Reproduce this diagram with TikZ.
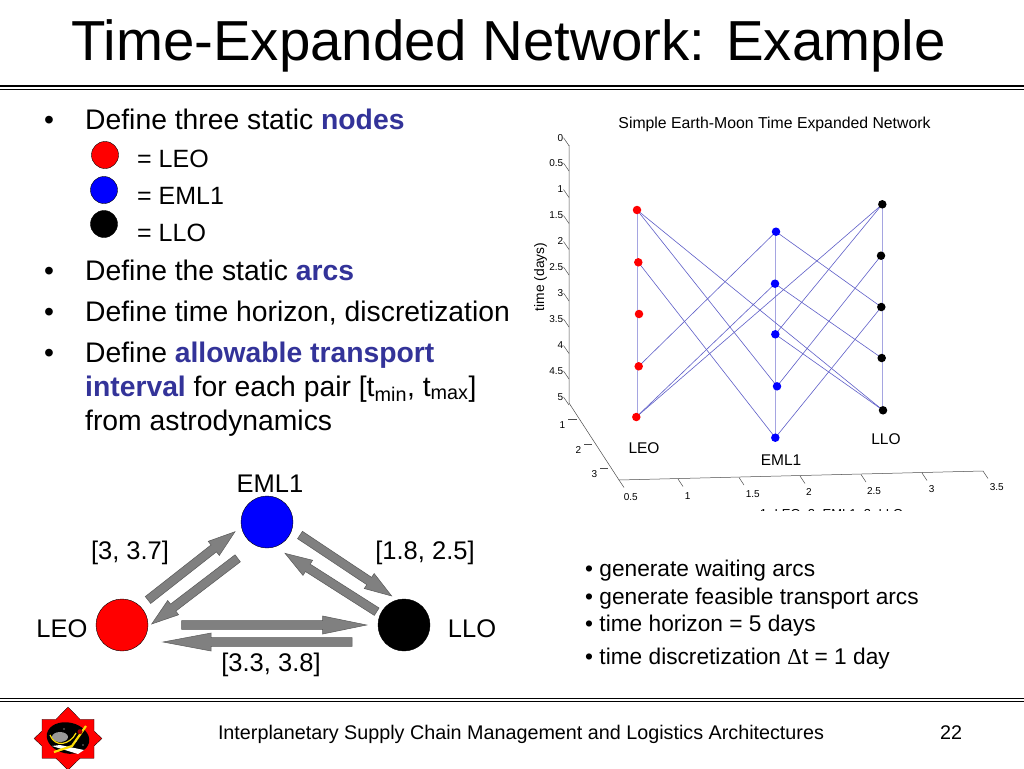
\documentclass[tikz,border=0pt]{standalone}
\usepackage{fontspec}
\setmainfont{Liberation Sans}
\newfontfamily\symfont{Liberation Serif}
\usetikzlibrary{calc}
\definecolor{accent}{RGB}{51,51,153}
\definecolor{arrowgray}{RGB}{128,128,128}
\definecolor{arclr}{RGB}{95,95,200}
\definecolor{waitclr}{RGB}{165,165,225}
\tikzset{
 x=1pt,y=-1pt,
 body/.style={anchor=base west,inner sep=0pt,font=\fontsize{28.3}{34}\selectfont,align=left},
 bul/.style={anchor=base west,inner sep=0pt,font=\fontsize{28.3}{34}\selectfont},
 keytext/.style={anchor=base west,inner sep=0pt,font=\fontsize{25}{30}\selectfont},
 sidetext/.style={anchor=base west,inner sep=0pt,font=\fontsize{22.7}{27}\selectfont},
 dlabel/.style={anchor=center,inner sep=0pt,font=\fontsize{25.5}{30}\selectfont},
 plotlbl/.style={anchor=center,inner sep=0pt,font=\fontsize{15.5}{18}\selectfont},
 tick/.style={anchor=east,inner sep=0pt,font=\fontsize{10}{12}\selectfont},
 xtick/.style={anchor=center,inner sep=0pt,font=\fontsize{10}{12}\selectfont},
 axisl/.style={draw=black!70,line width=0.5pt},
 bigdot/.style={circle,draw=black,line width=0.4pt,minimum size=52pt,inner sep=0pt},
 keydot/.style={circle,draw=black,line width=0.4pt,minimum size=27pt,inner sep=0pt},
 pdot/.style={circle,minimum size=8.5pt,inner sep=0pt},
 arc/.style={draw=arclr,line width=0.6pt},
 wait/.style={draw=waitclr,line width=1pt},
}
\newcommand{\blockarrow}[3]{%
 \draw[black!65,fill=arrowgray,line width=0.5pt]
   let \p1=($(#2)-(#1)$),\n1={veclen(\x1,\y1)},\n2={atan2(\y1,\x1)} in
   [shift={(#1)},rotate=\n2,yscale=-1]
   (0,-4.4) -- (\n1-#3,-4.4) -- (\n1-#3,-9) -- (\n1,0) -- (\n1-#3,9) -- (\n1-#3,4.4) -- (0,4.4) -- cycle;}
\begin{document}
\begin{tikzpicture}
\useasboundingbox (0,0) rectangle (1024,768);
\fill[white] (0,0) rectangle (1024,768);
% title
\node[anchor=base,inner sep=0pt,font=\fontsize{56.4}{62}\selectfont] (title) at (508.5,60) {Time-Expanded Network: Example};
% rules
\draw[black,line width=1.6pt] (0,86) -- (1024,86);
\draw[black,line width=0.9pt] (0,89.3) -- (1024,89.3);
\draw[black,line width=1.6pt] (0,698.3) -- (1024,698.3);
\draw[black,line width=0.9pt] (0,701.4) -- (1024,701.4);
% bullets
\node[bul] (b1) at (44,129) {•};
\node[body] (t1) at (85,129) {Define three static \textbf{\textcolor{accent}{nodes}}};
\node[keydot,fill=red] (kr) at (105,155) {};
\node[keydot,fill=blue] (kb) at (104,190) {};
\node[keydot,fill=black] (kk) at (104,224) {};
\node[keytext] (k1) at (137,167) {= LEO};
\node[keytext] (k2) at (137,204) {= EML1};
\node[keytext] (k3) at (137,241) {= LLO};
\node[bul] (b2) at (44,280) {•};
\node[body] (t2) at (85,280) {Define the static \textbf{\textcolor{accent}{arcs}}};
\node[bul] (b3) at (44,321) {•};
\node[body] (t3) at (85,321) {Define time horizon, discretization};
\node[bul] (b4) at (44,362) {•};
\node[body] (t4a) at (85,362) {Define \textbf{\textcolor{accent}{allowable transport}}};
\node[body] (t4b) at (85,396) {\textbf{\textcolor{accent}{interval}} for each pair [t\textsubscript{min}, t\textsubscript{max}]};
\node[body] (t4c) at (85,430) {from astrodynamics};
% lower-left diagram
\node[bigdot,fill=blue] (eml) at (267,522) {};
\node[bigdot,fill=red] (leo) at (122,625) {};
\node[bigdot,fill=black] (llo) at (404,625) {};
\node[dlabel] (lE) at (270,484) {EML1};
\node[dlabel] (lL) at (62,629) {LEO};
\node[dlabel] (lO) at (472,629) {LLO};
\node[dlabel] (i1) at (130,553) {[3, 3.7]};
\node[dlabel] (i2) at (425,553) {[1.8, 2.5]};
\node[dlabel] (i3) at (271,665) {[3.3, 3.8]};
\coordinate (a1s) at (148,600); \coordinate (a1e) at (235,531.7);
\coordinate (a2s) at (237.7,558.3); \coordinate (a2e) at (151.7,624);
\coordinate (a3s) at (300,535); \coordinate (a3e) at (391.7,596);
\coordinate (a4s) at (376.7,611.7); \coordinate (a4e) at (285,553.3);
\coordinate (a5s) at (181.7,625); \coordinate (a5e) at (366.7,625);
\coordinate (a6s) at (352,642); \coordinate (a6e) at (163,642);
\blockarrow{a1s}{a1e}{27}
\blockarrow{a2s}{a2e}{27}
\blockarrow{a3s}{a3e}{27}
\blockarrow{a4s}{a4e}{27}
\blockarrow{a5s}{a5e}{44}
\blockarrow{a6s}{a6e}{48}
% plot
\node[plotlbl,font=\fontsize{15.8}{18}\selectfont] (ptitle) at (774.5,124.5) {Simple Earth-Moon Time Expanded Network};
\node[plotlbl,rotate=90,font=\fontsize{13.8}{16}\selectfont] (ylab) at (540.5,277) {time (days)};
% axes
\coordinate (ax0) at (569,145);
\coordinate (ax5) at (569,403);
\coordinate (ax6) at (619,480);
\coordinate (ax7) at (983,471);
\draw[axisl] (ax0) -- (ax5) -- (ax6) -- (ax7);
\foreach \y/\t [count=\i] in {137.7/0,163/0.5,189.5/1,215.5/1.5,241.5/2,267/2.5,293/3,319/3.5,345.5/4,371/4.5,397/5}{
 \node[tick] (yt\i) at (563.5,\y) {\t};
 \draw[axisl] (569,\y+8) -- (563.5,\y);
}
\foreach \x/\y/\t [count=\i] in {630.7/496.7/0.5,687.7/495.7/1,752.7/494/1.5,809/492/2,874/490.7/2.5,931.7/488.7/3,996.7/486.7/3.5}{
 \node[xtick] (xt\i) at (\x,\y) {\t};
}
\foreach \x/\y in {619/480,678/479,739/477.5,800/476,861/474.5,922/473,983/471}{
 \draw[axisl] (\x,\y) -- (\x+5,\y+7.5);
}
\foreach \x/\y/\t in {562.5/425/1,578.5/450/2,594.5/474/3}{
 \node[xtick] at (\x,\y) {\t};
}
\draw[axisl] (568,419) -- (577,419);
\draw[axisl] (584,444) -- (592,444);
\draw[axisl] (600,468.5) -- (608,468.5);
\node[plotlbl] (pL) at (644,448) {LEO};
\node[plotlbl] (pE) at (781,460) {EML1};
\node[plotlbl] (pO) at (886,439) {LLO};
\begin{scope}
\clip (700,500) rectangle (960,510.5);
\node[xtick,font=\fontsize{13}{15}\selectfont] (xcut) at (831.5,514.5) {1=LEO, 2=EML1, 3=LLO};
\end{scope}
% plot nodes
\foreach \n/\x/\y in {L1/637/210,L2/638.3/262.3,L3/639/314,L4/638.7/366.3,L5/636.3/417}{
 \coordinate (\n) at (\x,\y);}
\foreach \n/\x/\y in {E1/776/231.7,E2/775/283.7,E3/775.3/334.3,E4/777/386.3,E5/775.3/437.7}{
 \coordinate (\n) at (\x,\y);}
\foreach \n/\x/\y in {O1/882.3/204.3,O2/881/255.7,O3/881.3/307,O4/881.7/358,O5/883/410.3}{
 \coordinate (\n) at (\x,\y);}
\coordinate (Lt) at (637.5,210); \coordinate (Lb) at (637.5,417);
\coordinate (Et) at (775.5,232); \coordinate (Eb) at (775.5,438);
\coordinate (Ot) at (882,204); \coordinate (Ob) at (882,410);
\draw[wait] (Lt)--(Lb);
\draw[wait] (Et)--(Eb);
\draw[wait] (Ot)--(Ob);
\foreach \a/\b in {L1/E4,L1/O5,L2/E5,L4/E1,L5/E2,L5/O1,E1/O3,E2/O4,E3/O1,E3/O5,E4/O2,E5/O3}{
 \draw[arc] (\a) -- (\b);}
\foreach \n in {L1,L2,L3,L4,L5}{\node[pdot,fill=red] at (\n) {};}
\foreach \n in {E1,E2,E3,E4,E5}{\node[pdot,fill=blue] at (\n) {};}
\foreach \n in {O1,O2,O3,O4,O5}{\node[pdot,fill=black] at (\n) {};}
% side notes
\node[sidetext] (s1) at (585,576) {• generate waiting arcs};
\node[sidetext] (s2) at (585,604) {• generate feasible transport arcs};
\node[sidetext] (s3) at (585,631) {• time horizon = 5 days};
\node[sidetext] (s4) at (585,664) {• time discretization {\symfont Δ}t = 1 day};
% footer
\node[anchor=base,inner sep=0pt,font=\fontsize{19.75}{23}\selectfont] (foot) at (521,739) {Interplanetary Supply Chain Management and Logistics Architectures};
\node[anchor=base,inner sep=0pt,font=\fontsize{19.75}{23}\selectfont] (pg) at (951,739) {22};
% logo
\begin{scope}
\clip (0,704) rectangle (200,768);
\draw[fill=red,draw=black,line width=0.3pt] (68,707) -- (80,719.3) -- (94,719.3) -- (94,731) -- (102,738.5) -- (94,746) -- (94,758.3) -- (80,758.3) -- (68,770) -- (56,758.3) -- (42,758.3) -- (42,746) -- (34,738.5) -- (42,731) -- (42,719.3) -- (56,719.3) -- cycle;
\fill[black,rotate around={-12:(68,738)}] (68,738) ellipse (21.5pt and 15.5pt);
\fill[white] (52,746) -- (78,754) -- (84,750) -- (60,745) -- cycle;
\fill[gray!80] (60,737) ellipse (8pt and 5pt);
\draw[yellow!80!orange,line width=2.2pt] (54,752) -- (72,746) -- (86,726);
\draw[yellow!80!orange,line width=1.2pt] (50,735) .. controls (55,748) and (70,745) .. (76,733);
\fill[red!60!black] (80,731.7) circle (2.5pt);
\fill[white] (64,729) circle (0.6pt) (83,745) circle (0.7pt) (76,741) circle (0.5pt);
\end{scope}
\end{tikzpicture}
\end{document}
